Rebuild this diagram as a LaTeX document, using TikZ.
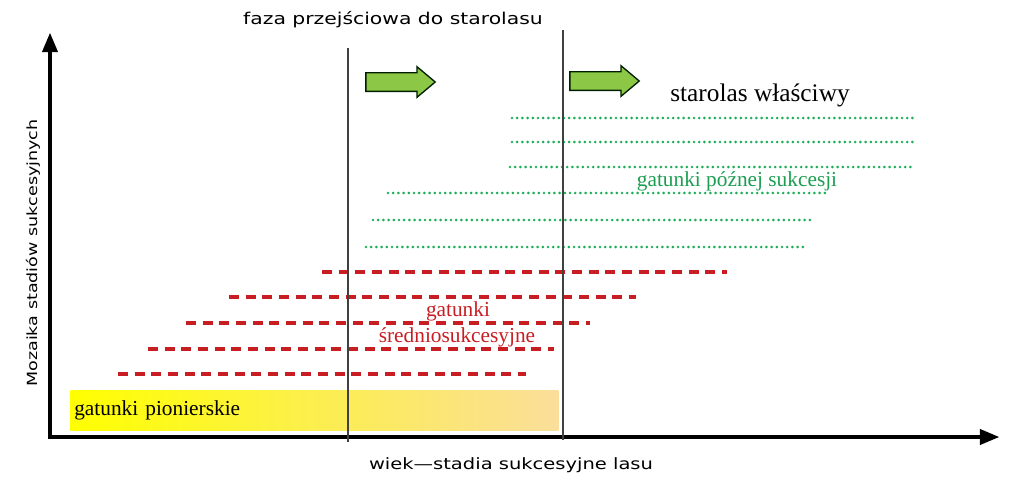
\documentclass[tikz,border=0pt]{standalone}
\usepackage{fontspec}
\setmainfont{Liberation Serif}
\newfontfamily\labelfont[FakeStretch=1.25]{DejaVu Sans}
\usepackage{tikz}
\usetikzlibrary{arrows,shapes.arrows,positioning,shapes}
\definecolor{lategreen}{RGB}{30,175,90}
\definecolor{midred}{RGB}{200,30,35}
\definecolor{arrowgreen}{RGB}{140,200,70}
\definecolor{pionyellow}{RGB}{255,255,0}
\definecolor{pionmid}{RGB}{253,238,80}
\definecolor{pionsand}{RGB}{250,222,155}

\begin{document}
\begin{tikzpicture}[x=0.75pt,y=-0.75pt,>=triangle 45,
	axis line/.style={line width=2.4pt,<->},
	phase line/.style={line width=1pt,black!75},
	late line/.style={draw=lategreen,line width=2.2pt,line cap=round,dash pattern=on 0pt off 3.9pt},
	mid line/.style={draw=midred,line width=2.8pt,dash pattern=on 7.5pt off 5pt},
	push arrow/.style={single arrow,draw=black!60!green!30!black,fill=arrowgreen,line width=1pt,
		inner xsep=0pt,inner ysep=6.5pt,minimum height=52pt,single arrow head extend=4.5pt,
		single arrow tip angle=80},
	axis text/.style={font=\labelfont\fontsize{10.5}{12}\selectfont,inner sep=0pt},
	group text/.style={font=\fontsize{16}{18}\selectfont,inner sep=0pt,align=center}]

	\useasboundingbox (0,0) rectangle (1024,480);

	\node[anchor=west,minimum height=30pt,text width=360pt,inner sep=3pt,align=left,
		left color=pionyellow,middle color=pionmid,right color=pionsand,font=\fontsize{16}{18}\selectfont]
		(pioneer) at (70,410) {gatunki pionierskie};

	\foreach \y/\a/\b in {272/322/727,297/229/636,323/186/590,349/148/554,374/118/526}
		\draw[mid line] (\a,\y) -- (\b,\y);
	\foreach \y/\a/\b in {118/512/913,142/512/913,167/510/911,193/388/826,220/373/812,247/366/803}
		\draw[late line] (\a,\y) -- (\b,\y);

	\coordinate (O) at (50,437);
	\coordinate (ytop) at (50,33);
	\coordinate (xend) at (999,437);
	\draw[axis line] (ytop) |- (xend);

	\coordinate (p1top) at (348,48);
	\coordinate (p1bot) at (348,442);
	\coordinate (p2top) at (563,30);
	\coordinate (p2bot) at (563,440);
	\draw[phase line] (p1top) -- (p1bot);
	\draw[phase line] (p2top) -- (p2bot);

	\node[push arrow] (push1) at (395,82) {};
	\node[push arrow] (push2) at (599,81) {};

	\node[axis text,font=\labelfont\fontsize{12.2}{14}\selectfont] (phase) at (393,20) {faza przejściowa do starolasu};
	\node[axis text,font=\labelfont\fontsize{11.7}{14}\selectfont] (xlabel) at (511,465) {wiek—stadia sukcesyjne lasu};
	\node[axis text,rotate=90] (ylabel) at (33,253) {Mozaika stadiów sukcesyjnych};

	\node[group text,font=\fontsize{19}{22}\selectfont] (oldforest) at (760,95) {starolas właściwy};
	\node[group text,text=lategreen!90!black] (late) at (737,181) {gatunki późnej sukcesji};
	\node[group text,text=midred] (mid1) at (458,311) {gatunki};
	\node[group text,text=midred] (mid2) at (457,337) {średniosukcesyjne};

\end{tikzpicture}
\end{document}
